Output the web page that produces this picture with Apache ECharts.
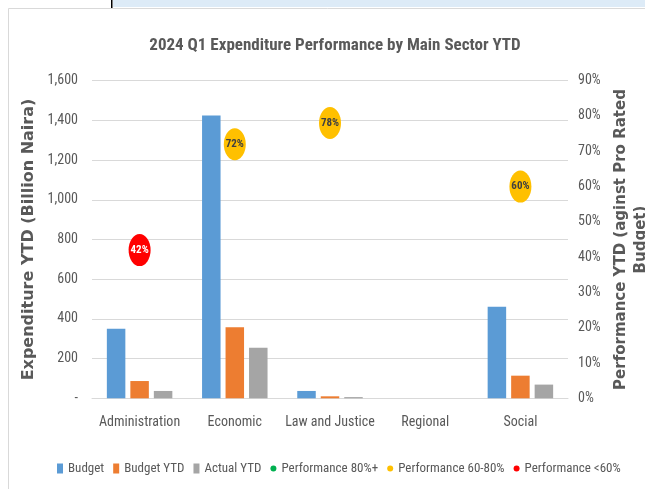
<!DOCTYPE html>
<html>
<head>
<meta charset="utf-8">
<script src="https://cdn.jsdelivr.net/npm/echarts@6/dist/echarts.min.js"></script>
<style>
html,body{margin:0;padding:0;background:#fff;}
#chart{width:645px;height:489px;}
</style>
</head>
<body>
<div id="chart"></div>
<script>
var categories = ['Administration', 'Economic', 'Law and Justice', 'Regional', 'Social'];
var budget = [350, 1425, 37, 0, 461];
var budgetYTD = [87, 358, 10, 0, 114];
var actualYTD = [37, 255, 6, 0, 69];
var performance = [42, 72, 78, null, 60];
var leftTicks = {min: 0, max: 1600, interval: 200};
var rightTicks = {min: 0, max: 90, interval: 10};

var narrow = '"Liberation Sans Narrow", "Roboto Condensed", "Liberation Sans", sans-serif';
var grey = '#595959';

function band(lo, hi) {
  return performance.map(function (v) {
    return (v !== null && v >= lo && v < hi) ? v : '-';
  });
}

var chart = echarts.init(document.getElementById('chart'), null, {renderer: 'canvas'});
chart.setOption({
  animation: false,
  backgroundColor: '#fff',
  textStyle: {fontFamily: narrow},
  graphic: [
    {type: 'rect', shape: {x: 113, y: 0, width: 540, height: 7}, style: {fill: '#DDEBF7'}, silent: true, z: -10},
    {type: 'rect', shape: {x: 111, y: 0, width: 1.5, height: 8}, style: {fill: '#000'}, silent: true, z: -10},
    {type: 'rect', shape: {x: 8.5, y: 8.5, width: 700, height: 600}, style: {fill: '#fff', stroke: '#d9d9d9', lineWidth: 1}, silent: true, z: -10}
  ],
  title: {
    text: '2024 Q1 Expenditure Performance by Main Sector YTD',
    left: 330, top: 32, textAlign: 'center',
    textStyle: {fontFamily: narrow, fontSize: 17, fontWeight: 'bold', color: grey}
  },
  legend: {
    left: 52, top: 457,
    itemWidth: 6, itemHeight: 10, itemGap: 9,
    textStyle: {fontFamily: narrow, fontSize: 13, color: grey},
    data: [
      {name: 'Budget', icon: 'rect'},
      {name: 'Budget YTD', icon: 'rect'},
      {name: 'Actual YTD', icon: 'rect'},
      {name: 'Performance 80%+', icon: 'circle'},
      {name: 'Performance 60-80%', icon: 'circle'},
      {name: 'Performance <60%', icon: 'circle'}
    ]
  },
  grid: {left: 92, right: 77, top: 80.7, bottom: 90.7, containLabel: false, outerBoundsMode: 'none'},
  xAxis: {
    type: 'category', data: categories,
    axisLine: {lineStyle: {color: '#d9d9d9'}},
    axisTick: {show: false},
    axisLabel: {fontFamily: narrow, fontSize: 14, color: grey, margin: 17, interval: 0}
  },
  yAxis: [
    {
      type: 'value', min: leftTicks.min, max: leftTicks.max, interval: leftTicks.interval,
      name: 'Expenditure YTD (Billion Naira)', nameLocation: 'middle', nameGap: 43,
      nameTextStyle: {fontFamily: '"DejaVu Sans", sans-serif', fontSize: 16, fontWeight: 'bold', color: grey},
      axisLine: {show: false}, axisTick: {show: false},
      splitLine: {lineStyle: {color: '#d9d9d9'}},
      axisLabel: {fontFamily: narrow, fontSize: 14, color: grey, margin: 14,
        formatter: function (v) { return v === 0 ? '-' : v.toLocaleString('en-US'); }}
    },
    {
      type: 'value', min: rightTicks.min, max: rightTicks.max, interval: rightTicks.interval,
      name: 'Performance YTD (aginst Pro Rated\nBudget)', nameLocation: 'middle', nameGap: 35, nameRotate: 90,
      nameTextStyle: {fontFamily: '"DejaVu Sans", sans-serif', fontSize: 15, fontWeight: 'bold', color: grey, lineHeight: 20},
      axisLine: {show: false}, axisTick: {show: false},
      splitLine: {show: false},
      axisLabel: {fontFamily: narrow, fontSize: 14, color: grey, margin: 10, formatter: '{value}%'}
    }
  ],
  series: [
    {name: 'Budget', type: 'bar', data: budget, barWidth: 18.5, barGap: '27%', itemStyle: {color: '#5B9BD5'}},
    {name: 'Budget YTD', type: 'bar', data: budgetYTD, barWidth: 18.5, barGap: '27%', itemStyle: {color: '#ED7D31'}},
    {name: 'Actual YTD', type: 'bar', data: actualYTD, barWidth: 18.5, barGap: '27%', itemStyle: {color: '#A5A5A5'}},
    {name: 'Performance 80%+', type: 'scatter', yAxisIndex: 1, data: band(80, 1000),
      symbol: 'circle', symbolSize: [22, 32], itemStyle: {color: '#00B050', opacity: 1},
      label: {show: true, position: 'inside', formatter: '{c}%', fontSize: 11, fontWeight: 'bold', color: '#404040'}},
    {name: 'Performance 60-80%', type: 'scatter', yAxisIndex: 1, data: band(60, 80),
      symbol: 'circle', symbolSize: [22, 32], itemStyle: {color: '#FFC000', opacity: 1},
      label: {show: true, position: 'inside', formatter: '{c}%', fontSize: 11, fontWeight: 'bold', color: '#404040'}},
    {name: 'Performance <60%', type: 'scatter', yAxisIndex: 1, data: band(-1000, 60),
      symbol: 'circle', symbolSize: [22, 32], itemStyle: {color: '#FF0000', opacity: 1},
      label: {show: true, position: 'inside', formatter: '{c}%', fontSize: 11, fontWeight: 'bold', color: '#fff'}}
  ]
});
</script>
</body>
</html>
